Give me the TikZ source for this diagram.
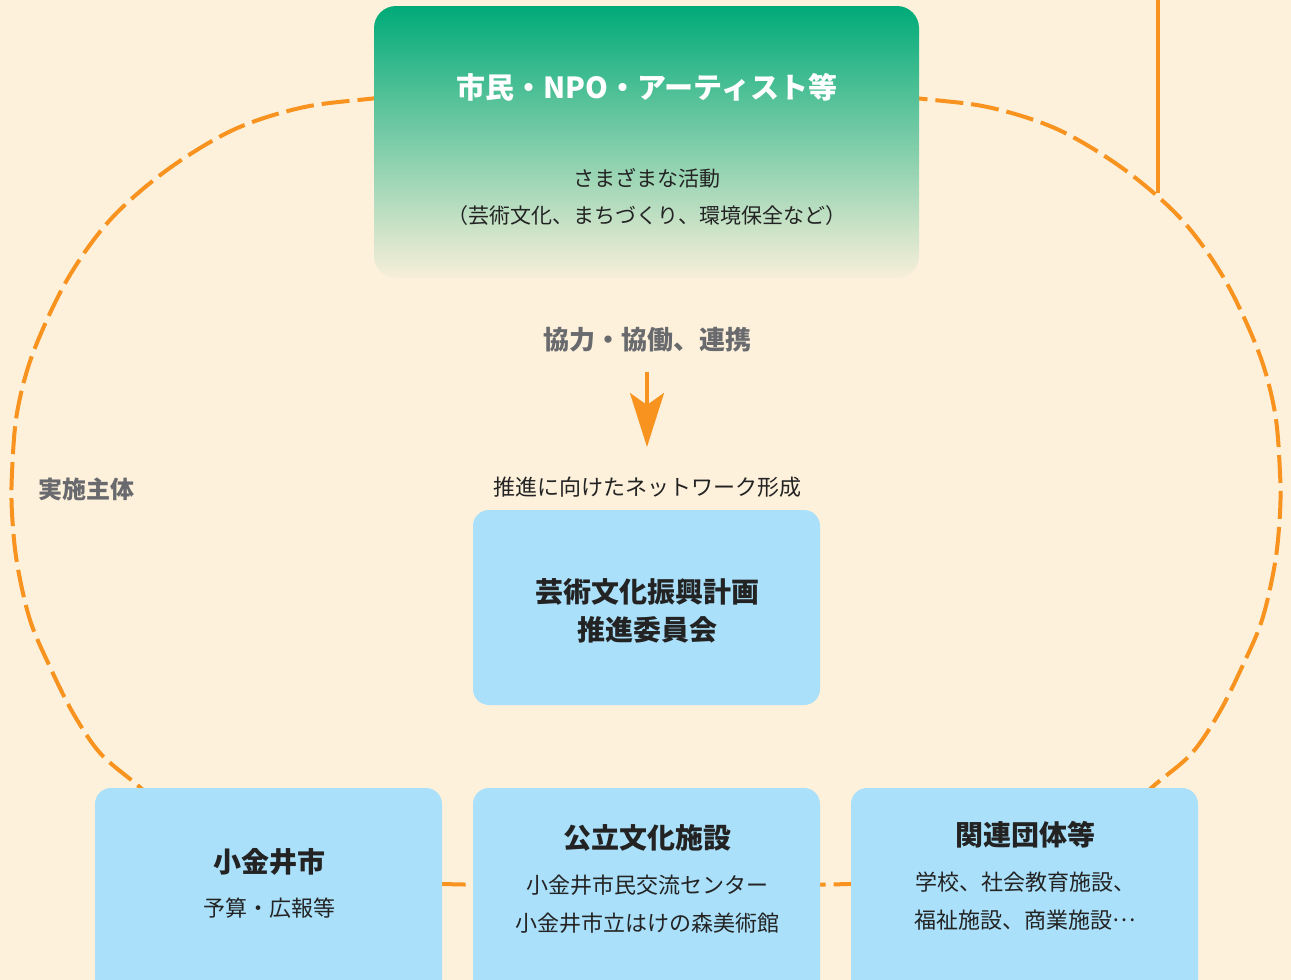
\documentclass[tikz,border=0pt]{standalone}
\usepackage{fontspec}
\newfontfamily\jp{Noto Sans CJK JP}
\usetikzlibrary{arrows.meta}
\definecolor{bg}{RGB}{253,241,220}
\definecolor{org}{RGB}{247,147,30}
\definecolor{lblue}{RGB}{170,224,250}
\definecolor{grn}{RGB}{0,170,120}
\definecolor{fade}{RGB}{248,239,217}
\definecolor{txt}{RGB}{35,35,35}
\definecolor{gtxt}{RGB}{105,106,110}
\newcommand{\midellip}{\raisebox{0.3em}{…}}
\tikzset{
  loopline/.style={draw=org, line width=4pt, dash pattern=on 28pt off 8pt},
  bluebox/.style={rectangle, rounded corners=16pt, fill=lblue, minimum width=347pt, inner sep=0pt},
  headtxt/.style={font=\jp\bfseries\fontsize{28}{38}\selectfont, text=txt, align=center},
  bodytxt/.style={font=\jp\fontsize{22}{38}\selectfont, text=txt, align=center},
  graytxt/.style={font=\jp\bfseries\fontsize{26}{30}\selectfont, text=gtxt},
}
\begin{document}
\begin{tikzpicture}[x=1pt,y=-1pt]
\clip (0,0) rectangle (1291,980);
\fill[bg] (0,0) rectangle (1291,980);
\useasboundingbox (0,0) rectangle (1291,980);

% dashed loop
\draw[loopline] plot[smooth cycle, tension=0.55] coordinates {
 (646,84) (792,87) (924,99) (992,108) (1059,130) (1125,170) (1182,220)
 (1225,280) (1259,353) (1275,413) (1280,473) (1280,513) (1275,563)
 (1262,620) (1242,667) (1219,713) (1192,753) (1157,783) (1112,820)
 (1042,855) (962,875) (849,884) (646,885) (443,884) (330,875) (250,855)
 (180,820) (135,783) (100,753) (73,713) (50,667) (30,620) (17,563)
 (12,513) (12,473) (17,413) (33,353) (67,280) (110,220) (167,170)
 (233,130) (300,108) (368,99) (500,87)};

% vertical line at top right
\coordinate (vtop) at (1158,0);
\coordinate (vjoin) at (1158,193);
\draw[org, line width=4pt] (vtop) -- (vjoin);

% top box
\node (topbox) [rectangle, rounded corners=22pt, minimum width=545pt, minimum height=272pt,
  inner sep=0pt, top color=grn, bottom color=fade] at (646.5,142) {};
\node (toptitle) [font=\jp\bfseries\fontsize{29}{32}\selectfont, text=white] at (647,87) {市民・NPO・アーティスト等};
\node (topbody) [bodytxt, font=\jp\fontsize{21}{37}\selectfont] at (647,197) {さまざまな活動\\（芸術文化、まちづくり、環境保全など）};

% cooperation label and arrow
\node (coop) [graytxt] at (647,340) {協力・協働、連携};
\coordinate (a1) at (647,372);
\coordinate (a2) at (647,447);
\draw[org, line width=4pt, -{Stealth[length=54pt,width=34pt,inset=12pt]}] (a1) -- (a2);

\node (netlabel) [bodytxt] at (647,487) {推進に向けたネットワーク形成};

% committee box
\node (committee) [bluebox, minimum height=195pt] at (646.5,607.5) {};
\node (committeetxt) [headtxt] at (647,611) {芸術文化振興計画\\推進委員会};

% side label
\node (actor) [graytxt, font=\jp\bfseries\fontsize{24}{28}\selectfont] at (86,489) {実施主体};

% bottom boxes
\node (city) [bluebox, minimum height=220pt] at (268.5,898) {};
\node (facility) [bluebox, minimum height=220pt] at (646.5,898) {};
\node (groups) [bluebox, minimum height=220pt] at (1024.5,898) {};

\node (citytitle) [headtxt] at (269,862) {小金井市};
\node (citybody) [bodytxt] at (269,908) {予算・広報等};

\node (factitle) [headtxt] at (647,838) {公立文化施設};
\node (facbody) [bodytxt] at (647,904) {小金井市民交流センター\\小金井市立はけの森美術館};

\node (grptitle) [headtxt] at (1025,835) {関連団体等};
\node (grpbody) [bodytxt] at (1025,901) {学校、社会教育施設、\\福祉施設、商業施設\midellip};
\end{tikzpicture}
\end{document}
